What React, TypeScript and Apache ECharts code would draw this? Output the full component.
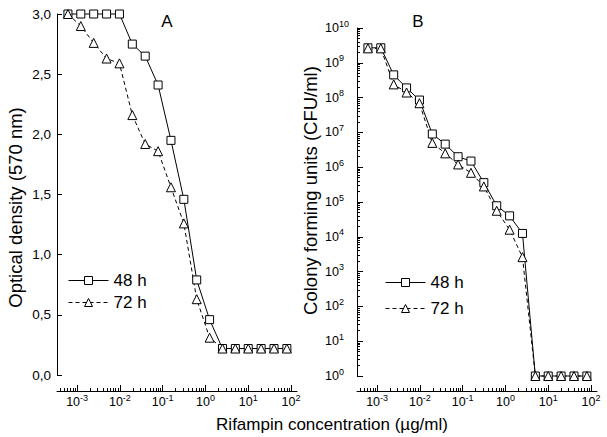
import React, { useEffect, useRef } from "react";
import * as echarts from "echarts";

// Rifampin concentrations (µg/ml), two-fold dilutions
const concentrations = [
  0.00061035, 0.0012207, 0.0024414, 0.0048828, 0.0097656, 0.019531, 0.039063,
  0.078125, 0.15625, 0.3125, 0.625, 1.25, 2.5, 5, 10, 20, 40, 80,
];

// Panel A: optical density (570 nm)
const od48 = [3.0, 3.0, 3.0, 3.0, 3.0, 2.75, 2.65, 2.41, 1.95, 1.46, 0.79, 0.46, 0.22, 0.22, 0.22, 0.22, 0.22, 0.22];
const od72 = [3.0, 2.9, 2.76, 2.63, 2.59, 2.16, 1.92, 1.86, 1.56, 1.26, 0.63, 0.31, 0.22, 0.22, 0.22, 0.22, 0.22, 0.22];

// Panel B: colony forming units (CFU/ml)
const cfu48 = [2.7e9, 2.7e9, 4.5e8, 1.9e8, 8.5e7, 9e6, 4.6e6, 2e6, 1.5e6, 3.6e5, 7.8e4, 4e4, 1.25e4, 1, 1, 1, 1, 1];
const cfu72 = [2.6e9, 2.6e9, 2.4e8, 1.4e8, 6.9e7, 5e6, 2.5e6, 1.2e6, 6.9e5, 2.8e5, 5.6e4, 1.6e4, 2.6e3, 1, 1, 1, 1, 1];

const seriesNames = ["48 h", "72 h"];
const xMajorTicks = [1e-3, 1e-2, 1e-1, 1, 10, 100];
const xMinorTicks = [
  4e-4, 5e-4, 6e-4, 7e-4, 8e-4, 9e-4,
  2e-3, 3e-3, 4e-3, 5e-3, 6e-3, 7e-3, 8e-3, 9e-3,
  2e-2, 3e-2, 4e-2, 5e-2, 6e-2, 7e-2, 8e-2, 9e-2,
  0.2, 0.3, 0.4, 0.5, 0.6, 0.7, 0.8, 0.9,
  2, 3, 4, 5, 6, 7, 8, 9,
  20, 30, 40, 50, 60, 70, 80, 90,
];
const yMajorTicksB = [1, 1e1, 1e2, 1e3, 1e4, 1e5, 1e6, 1e7, 1e8, 1e9, 1e10];
const yMinorTicksB = [
  2, 3, 4, 5, 6, 7, 8, 9,
  20, 30, 40, 50, 60, 70, 80, 90,
  200, 300, 400, 500, 600, 700, 800, 900,
  2e3, 3e3, 4e3, 5e3, 6e3, 7e3, 8e3, 9e3,
  2e4, 3e4, 4e4, 5e4, 6e4, 7e4, 8e4, 9e4,
  2e5, 3e5, 4e5, 5e5, 6e5, 7e5, 8e5, 9e5,
  2e6, 3e6, 4e6, 5e6, 6e6, 7e6, 8e6, 9e6,
  2e7, 3e7, 4e7, 5e7, 6e7, 7e7, 8e7, 9e7,
  2e8, 3e8, 4e8, 5e8, 6e8, 7e8, 8e8, 9e8,
  2e9, 3e9, 4e9, 5e9, 6e9, 7e9, 8e9, 9e9,
];

const FONT = "'Liberation Sans', Arial, Helvetica, sans-serif";
const X_MIN = Math.pow(10, -3.47);
const X_MAX = Math.pow(10, 2.14);

const pairs = (xs: number[], ys: number[]) => xs.map((x, i) => [x, ys[i]]);

const powLabel = (v: number) => {
  const e = Math.round(Math.log10(v));
  return `{b|10}{s|${e}}`;
};

const richPow = {
  b: { fontSize: 12.5, fontFamily: FONT, color: "#000", verticalAlign: "middle" },
  s: { fontSize: 9, fontFamily: FONT, color: "#000", verticalAlign: "middle", padding: [0, 0, 9, 0] },
};

const axisLineStyle = { show: true, onZero: false, lineStyle: { color: "#000", width: 1 } };

function makeXAxes(gridIndex: number, offset: number) {
  return [
    {
      type: "log",
      gridIndex,
      min: X_MIN,
      max: X_MAX,
      position: "bottom",
      offset,
      axisLine: axisLineStyle,
      axisTick: { show: true, inside: true, length: 6, customValues: xMajorTicks, lineStyle: { color: "#000", width: 1 } },
      minorTick: { show: false },
      axisLabel: {
        customValues: xMajorTicks,
        formatter: powLabel,
        rich: richPow,
        margin: 2,
        color: "#000",
      },
      splitLine: { show: false },
    },
    {
      type: "log",
      gridIndex,
      min: X_MIN,
      max: X_MAX,
      position: "bottom",
      offset,
      axisLine: { show: false, onZero: false },
      axisTick: { show: true, inside: true, length: 3, customValues: xMinorTicks, lineStyle: { color: "#000", width: 1 } },
      axisLabel: { show: false },
      splitLine: { show: false },
    },
  ];
}

const lineSeries = (name: string, data: number[][], xi: number, yi: number, dashed: boolean) => ({
  name,
  type: "line",
  xAxisIndex: xi,
  yAxisIndex: yi,
  data,
  symbol: dashed ? "triangle" : "rect",
  symbolSize: dashed ? 9 : 8,
  showAllSymbol: true,
  clip: false,
  itemStyle: { color: "#fff", borderColor: "#000", borderWidth: 1 },
  lineStyle: { color: "#000", width: 1, type: dashed ? [4, 3] : "solid" },
  emphasis: { disabled: true },
});

export default function App() {
  const ref = useRef<HTMLDivElement>(null);

  useEffect(() => {
    if (!ref.current) return;
    const chart = echarts.init(ref.current, undefined, { renderer: "svg" });
    const legendBase = {
      orient: "vertical",
      data: seriesNames,
      itemWidth: 40,
      itemHeight: 10,
      padding: 0,
      selectedMode: false,
      itemStyle: { borderWidth: 1 },
      lineStyle: { width: 1 },
      textStyle: { fontSize: 17, fontFamily: FONT, color: "#000" },
    };
    chart.setOption({
      animation: false,
      backgroundColor: "#fff",
      textStyle: { fontFamily: FONT },
      grid: [
        { left: 57, top: 14, width: 240, height: 361 },
        { left: 357, top: 28, width: 240, height: 348 },
      ],
      xAxis: [...makeXAxes(0, 16), ...makeXAxes(1, 15)],
      yAxis: [
        {
          type: "value",
          gridIndex: 0,
          min: 0,
          max: 3,
          interval: 0.5,
          axisLine: axisLineStyle,
          axisTick: { show: true, inside: true, length: 5, lineStyle: { color: "#000" } },
          axisLabel: {
            formatter: (v: number) => v.toFixed(1).replace(".", ","),
            fontSize: 13.5,
            fontFamily: FONT,
            color: "#000",
            margin: 6,
          },
          splitLine: { show: false },
        },
        {
          type: "log",
          gridIndex: 1,
          min: 1,
          max: 1e10,
          axisLine: axisLineStyle,
          axisTick: { show: true, inside: true, length: 6, customValues: yMajorTicksB, lineStyle: { color: "#000" } },
          minorTick: { show: false },
          axisLabel: {
            customValues: yMajorTicksB,
            formatter: powLabel,
            rich: richPow,
            align: "left",
            margin: 32,
            color: "#000",
          },
          splitLine: { show: false },
        },
        {
          type: "log",
          gridIndex: 1,
          min: 1,
          max: 1e10,
          position: "left",
          axisLine: { show: false, onZero: false },
          axisTick: { show: true, inside: true, length: 3, customValues: yMinorTicksB, lineStyle: { color: "#000" } },
          axisLabel: { show: false },
          splitLine: { show: false },
        },
      ],
      legend: [
        { ...legendBase, left: 68, top: 272, itemGap: 5 },
        { ...legendBase, left: 385, top: 274, itemGap: 9 },
      ],
      series: [
        lineSeries(seriesNames[0], pairs(concentrations, od48), 0, 0, false),
        lineSeries(seriesNames[1], pairs(concentrations, od72), 0, 0, true),
        lineSeries(seriesNames[0], pairs(concentrations, cfu48), 2, 1, false),
        lineSeries(seriesNames[1], pairs(concentrations, cfu72), 2, 1, true),
      ],
      graphic: [
        { type: "text", x: 167, y: 21, style: { text: "A", font: `17px ${FONT}`, fill: "#000", align: "center", verticalAlign: "middle" } },
        { type: "text", x: 418, y: 21, style: { text: "B", font: `17px ${FONT}`, fill: "#000", align: "center", verticalAlign: "middle" } },
        {
          type: "text",
          x: 332,
          y: 424,
          style: { text: "Rifampin concentration (µg/ml)", font: `17px ${FONT}`, fill: "#000", align: "center", verticalAlign: "middle" },
        },
        {
          type: "text",
          x: 15,
          y: 207.5,
          rotation: Math.PI / 2,
          style: { text: "Optical density (570 nm)", font: `18.5px ${FONT}`, fill: "#000", align: "center", verticalAlign: "middle" },
        },
        {
          type: "text",
          x: 310,
          y: 190.5,
          rotation: Math.PI / 2,
          style: { text: "Colony forming units (CFU/ml)", font: `18.5px ${FONT}`, fill: "#000", align: "center", verticalAlign: "middle" },
        },
      ],
    });
    return () => chart.dispose();
  }, []);

  return (
    <div
      ref={ref}
      style={{ position: "fixed", left: 0, top: 0, width: 607, height: 437, background: "#fff" }}
    />
  );
}
